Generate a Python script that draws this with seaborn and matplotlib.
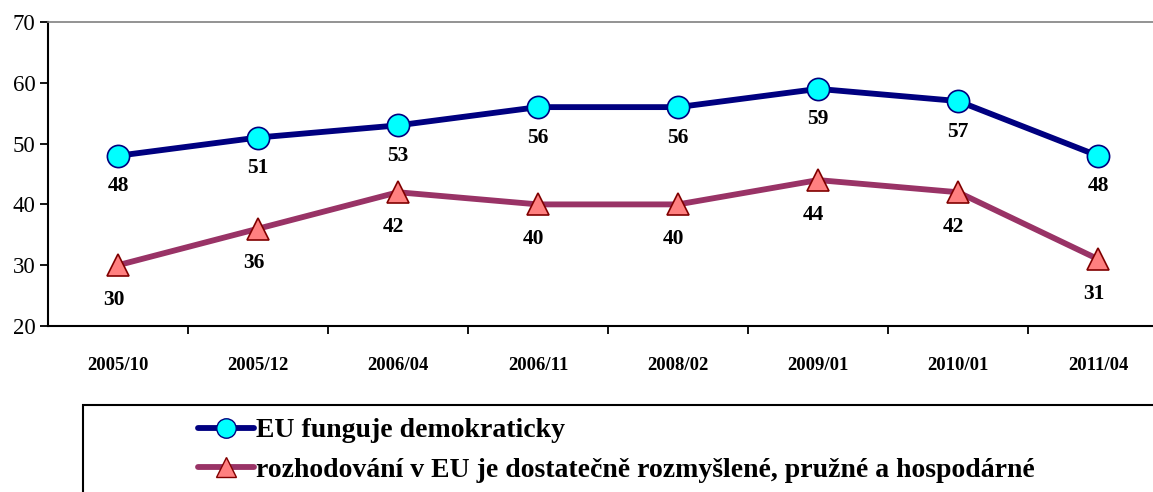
import matplotlib
matplotlib.use("Agg")
import matplotlib.pyplot as plt
from matplotlib.patches import Rectangle
from matplotlib.lines import Line2D
import seaborn as sns
import pandas as pd
import numpy as np

periods = ['2005/10', '2005/12', '2006/04', '2006/11', '2008/02', '2009/01', '2010/01', '2011/04']
demokraticky = [48, 51, 53, 56, 56, 59, 57, 48]
rozhodovani = [30, 36, 42, 40, 40, 44, 42, 31]
label_demo = 'EU funguje demokraticky'
label_rozh = 'rozhodování v EU je dostatečně rozmyšlené, pružné a hospodárné'

sns.set_style("white")
plt.rcParams['font.family'] = ['Liberation Serif', 'DejaVu Serif']
plt.rcParams['text.color'] = 'black'
plt.rcParams['xtick.color'] = 'black'
plt.rcParams['ytick.color'] = 'black'

df = pd.DataFrame({'pos': np.arange(len(periods)), 'demo': demokraticky, 'rozh': rozhodovani})

fig = plt.figure(figsize=(11.53, 4.92), dpi=100)
ax = fig.add_axes([48 / 1153, 1 - 326 / 492, 1120 / 1153, 304 / 492])

sns.lineplot(data=df, x='pos', y='demo', ax=ax, color='#000080', linewidth=4.2,
             marker='o', markersize=16, markerfacecolor='#00FFFF', markeredgecolor='#000080',
             markeredgewidth=1.2, sort=False, zorder=3)
sns.lineplot(data=df, x='pos', y='rozh', ax=ax, color='#993366', linewidth=4.2,
             marker='^', markersize=16, markerfacecolor='#FF8080', markeredgecolor='#800000',
             markeredgewidth=1.2, sort=False, zorder=3)

for i, v in enumerate(demokraticky):
    ax.annotate(str(v), (i, v), xytext=(0, -22), textcoords='offset points',
                ha='center', va='center', fontsize=15.5, fontweight='bold')
for i, v in enumerate(rozhodovani):
    ax.annotate(str(v), (i, v), xytext=(-3, -25), textcoords='offset points',
                ha='center', va='center', fontsize=15.5, fontweight='bold')

ax.set_xlim(-0.5, len(periods) - 0.5)
ax.set_ylim(20, 70)
ax.set_yticks(range(20, 71, 10))
ax.set_yticklabels([str(t) for t in range(20, 71, 10)], fontsize=16.5)
ax.set_xticks(range(len(periods)))
ax.set_xticklabels(periods, fontsize=13.5, fontweight='bold')
ax.set_xticks(np.arange(0.5, len(periods) - 0.5, 1), minor=True)
ax.tick_params(axis='x', which='major', length=0, pad=22, bottom=True)
ax.tick_params(axis='x', which='minor', length=6, width=1.3, color='black',
               direction='out', bottom=True)
ax.tick_params(axis='y', length=6, width=1.3, color='black', direction='out', pad=3, left=True)
ax.set_xlabel('')
ax.set_ylabel('')

for s in ['left', 'bottom']:
    ax.spines[s].set_color('black')
    ax.spines[s].set_linewidth(1.5)
ax.spines['top'].set_color('#808080')
ax.spines['top'].set_linewidth(1.2)
ax.spines['right'].set_visible(False)

# legend box cut off by the figure edge
fig.patches.append(Rectangle((83 / 1153, -0.1), 1.2, 0.1 + (492 - 405) / 492,
                             transform=fig.transFigure, fill=False, edgecolor='black',
                             linewidth=1.5, zorder=1))
handles = [
    Line2D([], [], color='#000080', linewidth=4.2, marker='o', markersize=14,
           markerfacecolor='#00FFFF', markeredgecolor='#000080'),
    Line2D([], [], color='#993366', linewidth=4.2, marker='^', markersize=14,
           markerfacecolor='#FF8080', markeredgecolor='#800000'),
]
fig.legend(handles, [label_demo, label_rozh], loc='upper left',
           bbox_to_anchor=(198 / 1153, 1 - 418 / 492), frameon=False,
           prop={'family': 'Liberation Serif', 'weight': 'bold', 'size': 20},
           handlelength=2.0, handletextpad=0.1, labelspacing=0.5, borderpad=0,
           borderaxespad=0)

fig.savefig('out.png', dpi=100)
